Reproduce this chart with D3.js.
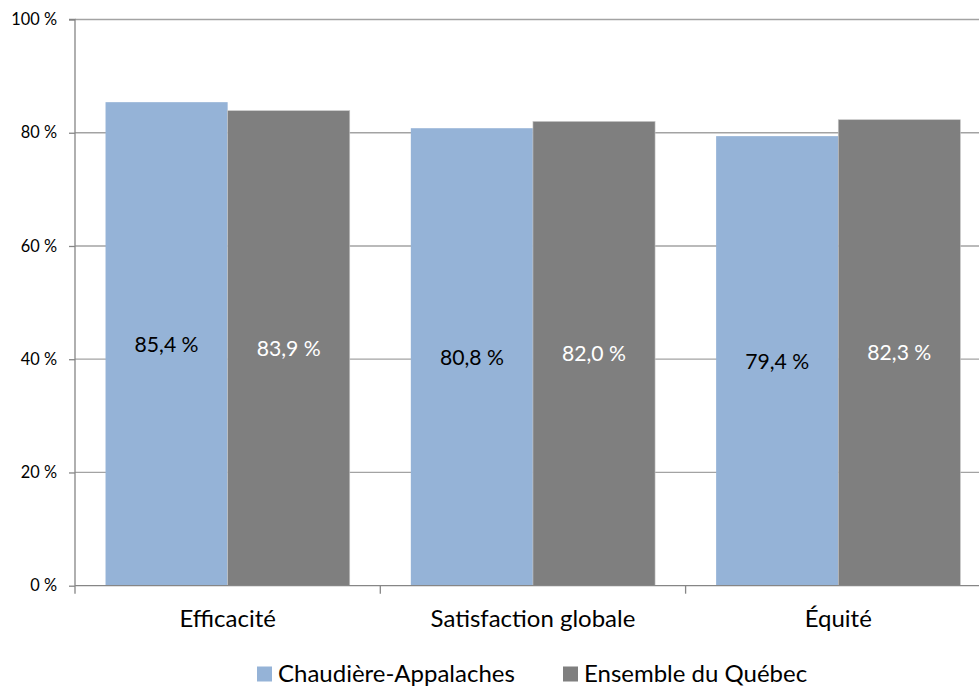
<!DOCTYPE html>
<html><head><meta charset="utf-8">
<script src="https://cdn.jsdelivr.net/npm/d3@7"></script>
<style>html,body{margin:0;padding:0;background:#fff;overflow:hidden}</style>
</head><body>
<svg id="c" width="979" height="686"></svg>
<script>
const categories = ["Efficacité", "Satisfaction globale", "Équité"];
const seriesNames = ["Chaudière-Appalaches", "Ensemble du Québec"];
const chaudiere = [85.4, 80.8, 79.4];
const quebec = [83.9, 82.0, 82.3];
const yTicks = [0, 20, 40, 60, 80, 100];
const colors = ["#95b3d7", "#7f7f7f"];
const labelColors = ["#000000", "#ffffff"];

(function () {
const font = "Lato, 'Open Sans', sans-serif";
const svg = d3.select("#c");

// choose font sizes so text widths match the reference
function fit(str, target) {
  const t = svg.append("text").attr("font-family", font).attr("font-size", 100).text(str);
  const w = t.node().getComputedTextLength();
  t.remove();
  return 100 * target / w;
}
const catSize = (fit("Satisfaction globale", 208) + fit("Efficacité", 95)) / 2;
const valSize = fit("85,4 %", 64);
const tickSize = (fit("100 %", 46) + fit("60 %", 36)) / 2;
const legSize = catSize;

const pLeft = 75, pTop = 19.5, pBottom = 585.7;
const bandW = 305.3;
const pRight = pLeft + bandW * categories.length;

const x = d3.scaleBand().domain(categories).range([pLeft, pRight]).paddingInner(0).paddingOuter(0);
const xs = d3.scaleBand().domain([0, 1]).range([0, x.bandwidth()]).paddingInner(0).paddingOuter(0.25);
const y = d3.scaleLinear().domain([0, 100]).range([pBottom, pTop]);

// gridlines
svg.append("g").selectAll("line").data(yTicks.filter(d => d > 0)).join("line")
  .attr("x1", pLeft).attr("x2", pRight)
  .attr("y1", d => y(d)).attr("y2", d => y(d))
  .attr("stroke", "#a3a3a3").attr("stroke-width", 1.3);

// bars
const data = categories.map((c, i) => ({c, vals: [chaudiere[i], quebec[i]]}));
const g = svg.append("g").selectAll("g").data(data).join("g")
  .attr("transform", d => `translate(${x(d.c)},0)`);
g.selectAll("rect").data(d => d.vals.map((v, k) => ({v, k}))).join("rect")
  .attr("x", d => xs(d.k)).attr("width", xs.bandwidth())
  .attr("y", d => y(d.v)).attr("height", d => y(0) - y(d.v))
  .attr("fill", d => colors[d.k])
  .attr("stroke", d => d.k === 1 ? "#c8c8c8" : "none").attr("stroke-width", 0.6);
g.selectAll("text").data(d => d.vals.map((v, k) => ({v, k}))).join("text")
  .attr("x", d => xs(d.k) + xs.bandwidth() / 2)
  .attr("y", d => (y(d.v) + y(0)) / 2)
  .attr("dy", "0.36em").attr("text-anchor", "middle")
  .attr("font-family", font).attr("font-size", valSize)
  .attr("fill", d => labelColors[d.k])
  .text(d => d3.format(".1f")(d.v).replace(".", ",") + " %");

// y axis
const yAxis = d3.axisLeft(y).tickValues(yTicks).tickSize(6).tickPadding(12)
  .tickFormat(d => d + " %");
const ya = svg.append("g").attr("transform", `translate(${pLeft},0)`).call(yAxis);
ya.select(".domain").attr("stroke", "#868686").attr("stroke-width", 1.3)
  .attr("d", `M-6,${pTop}H0V${pBottom + 8}`);
ya.selectAll(".tick line").attr("stroke", "#868686").attr("stroke-width", 1.3);
ya.selectAll(".tick text").attr("font-family", font).attr("font-size", tickSize).attr("fill", "#000");

// x axis
const xa = svg.append("g").attr("transform", `translate(0,${pBottom})`)
  .call(d3.axisBottom(x).tickSize(0).tickPadding(0));
xa.select(".domain").attr("stroke", "#868686").attr("stroke-width", 1.3)
  .attr("d", `M${pLeft},0H${pRight}`);
xa.selectAll(".tick text").attr("font-family", font).attr("font-size", catSize)
  .attr("fill", "#000").attr("y", 627.3 - pBottom).attr("dy", 0);
svg.append("g").selectAll("line").data(categories.slice(1)).join("line")
  .attr("x1", d => x(d)).attr("x2", d => x(d))
  .attr("y1", pBottom).attr("y2", pBottom + 8)
  .attr("stroke", "#868686").attr("stroke-width", 1.3);

// legend
const legX = [257, 563];
const lg = svg.append("g").selectAll("g").data(seriesNames).join("g")
  .attr("transform", (d, i) => `translate(${legX[i]},666.5)`);
lg.append("rect").attr("width", 15).attr("height", 15).attr("fill", (d, i) => colors[i]);
lg.append("text").attr("x", 21).attr("y", 15)
  .attr("font-family", font).attr("font-size", legSize).attr("fill", "#000").text(d => d);
})();
</script>
</body></html>
